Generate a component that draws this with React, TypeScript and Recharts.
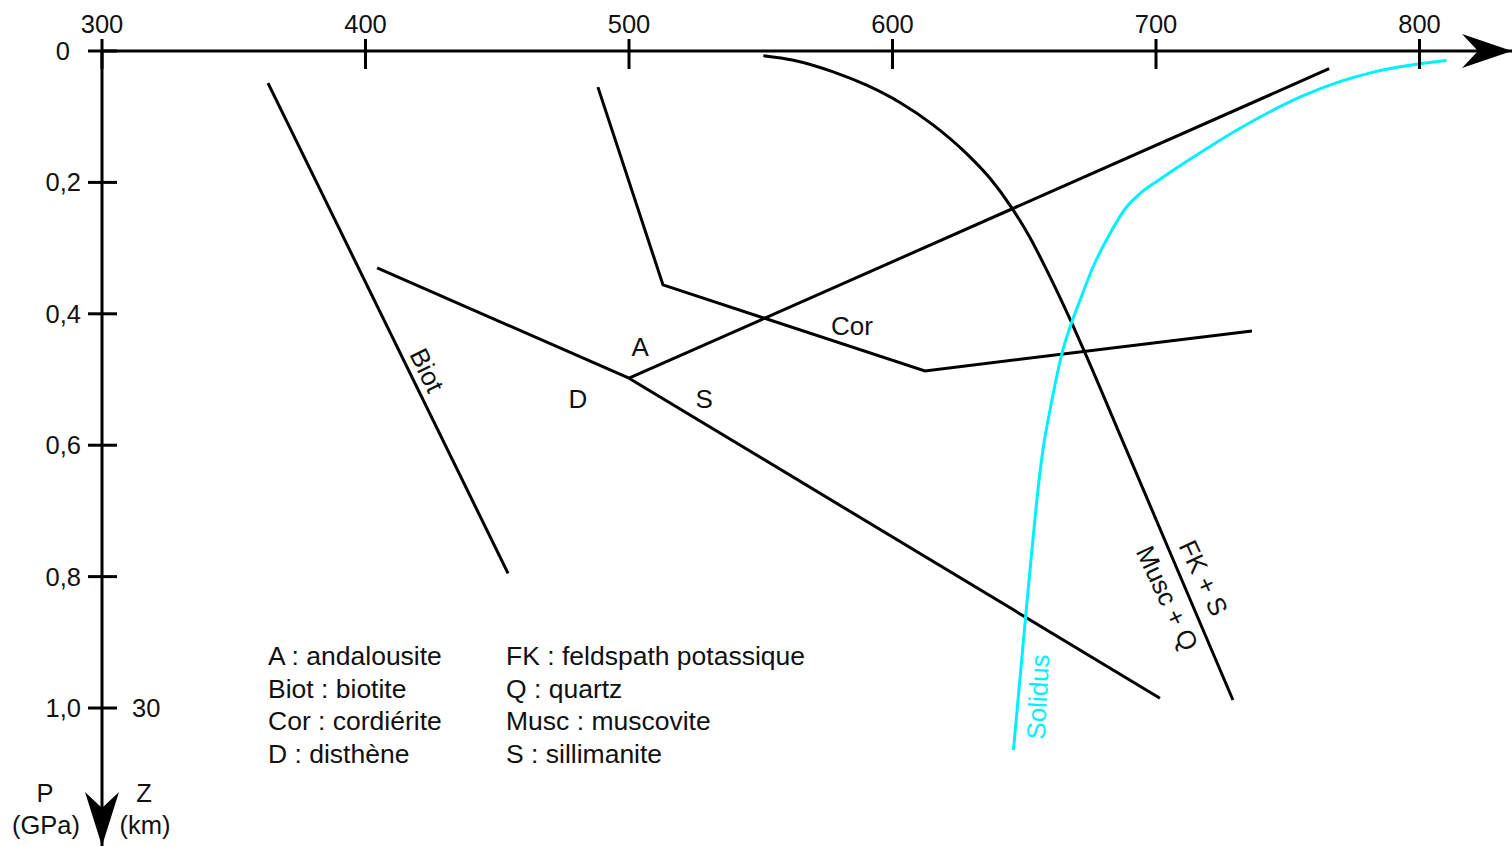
import React from 'react';
import { ComposedChart, Line, XAxis, YAxis, ReferenceDot, Legend } from 'recharts';

const FONT = '"Liberation Sans", Arial, Helvetica, sans-serif';
const INK = '#111111';
const LINE = '#000000';
const CYAN = '#00F0FF';

// ---- axes ----
const temperatureTicks = [300, 400, 500, 600, 700, 800];
const pressureTicks = [0, 0.2, 0.4, 0.6, 0.8, 1.0];
const depthTicks = [{ p: 1.0, z: 30 }];
const temperatureDomain: [number, number] = [300, 835.1];
const pressureDomain: [number, number] = [0, 1.21];

// ---- reaction curves (T in °C, P in GPa) ----
const biotite = [
  { t: 363.0, p: 0.049 },
  { t: 454.1, p: 0.795 },
];
const kyaniteAndalusite = [
  { t: 404.4, p: 0.330 },
  { t: 500.0, p: 0.498 },
];
const andalusiteSillimanite = [
  { t: 500.0, p: 0.498 },
  { t: 765.7, p: 0.027 },
];
const kyaniteSillimanite = [
  { t: 500.0, p: 0.498 },
  { t: 701.5, p: 0.985 },
];
const cordierite = [
  { t: 488.2, p: 0.055 },
  { t: 512.9, p: 0.356 },
  { t: 612.3, p: 0.487 },
  { t: 736.4, p: 0.426 },
];
const muscoviteBreakdown = [
  { t: 551.0, p: 0.0072 },
  { t: 562.4, p: 0.0140 },
  { t: 577.5, p: 0.0317 },
  { t: 590.2, p: 0.0521 },
  { t: 602.8, p: 0.0784 },
  { t: 615.5, p: 0.1128 },
  { t: 628.2, p: 0.1565 },
  { t: 637.0, p: 0.1937 },
  { t: 645.2, p: 0.2383 },
  { t: 652.2, p: 0.2843 },
  { t: 657.2, p: 0.3228 },
  { t: 668.1, p: 0.4146 },
  { t: 673.4, p: 0.4626 },
  { t: 685.2, p: 0.5735 },
  { t: 705.3, p: 0.7629 },
  { t: 729.2, p: 0.9878 },
];
const solidus = [
  { t: 645.9, p: 1.064 },
  { t: 650.5, p: 0.862 },
  { t: 652.9, p: 0.760 },
  { t: 654.8, p: 0.683 },
  { t: 657.1, p: 0.607 },
  { t: 659.8, p: 0.546 },
  { t: 664.8, p: 0.453 },
  { t: 667.4, p: 0.420 },
  { t: 671.2, p: 0.379 },
  { t: 676.2, p: 0.328 },
  { t: 682.5, p: 0.278 },
  { t: 688.9, p: 0.237 },
  { t: 693.9, p: 0.217 },
  { t: 701.5, p: 0.1953 },
  { t: 715.4, p: 0.1584 },
  { t: 730.6, p: 0.1206 },
  { t: 743.3, p: 0.0924 },
  { t: 755.9, p: 0.0680 },
  { t: 768.6, p: 0.0482 },
  { t: 782.5, p: 0.0321 },
  { t: 799.5, p: 0.0198 },
  { t: 810.3, p: 0.0146 },
];

// ---- field labels ----
const annotations = [
  { text: 'Biot', t: 423.3, p: 0.486 },
  { text: 'A', t: 504.2, p: 0.450 },
  { text: 'D', t: 480.6, p: 0.530 },
  { text: 'S', t: 528.5, p: 0.530 },
  { text: 'Cor', t: 584.6, p: 0.419 },
  { text: 'FK + S', t: 718.0, p: 0.802 },
  { text: 'Musc + Q', t: 704.3, p: 0.833 },
  { text: 'Solidus', t: 655.2, p: 0.983 },
];
const annotationStyle: Record<string, { angle: number; color: string }> = {
  Biot: { angle: 64, color: INK },
  A: { angle: 0, color: INK },
  D: { angle: 0, color: INK },
  S: { angle: 0, color: INK },
  Cor: { angle: 0, color: INK },
  'FK + S': { angle: 65, color: INK },
  'Musc + Q': { angle: 65, color: INK },
  Solidus: { angle: -87, color: CYAN },
};

// ---- abbreviations ----
const abbreviationsLeft = ['A : andalousite', 'Biot : biotite', 'Cor : cordiérite', 'D : disthène'];
const abbreviationsRight = ['FK : feldspath potassique', 'Q : quartz', 'Musc : muscovite', 'S : sillimanite'];

const TICK_FONT = 25.5;
const LABEL_FONT = 26;
const LEGEND_FONT = 26.5;

const formatPressure = (v: number) => (v === 0 ? '0' : v.toFixed(1).replace('.', ','));

const TopTick = (props: any) => {
  const { x, y, payload } = props;
  return (
    <g>
      <line x1={x} x2={x} y1={y - 12} y2={y + 18} stroke={LINE} strokeWidth={3} />
      <text x={x} y={y - 18} textAnchor="middle" fontSize={TICK_FONT} fill={INK} fontFamily={FONT}>
        {payload.value}
      </text>
    </g>
  );
};

const LeftTick = (props: any) => {
  const { x, y, payload } = props;
  const v = payload.value as number;
  const depth = depthTicks.find((d) => Math.abs(d.p - v) < 1e-9);
  return (
    <g>
      <line x1={x - 14} x2={x + 15} y1={y} y2={y} stroke={LINE} strokeWidth={3} />
      <text x={v === 0 ? x - 32 : x - 21} y={y + 9} textAnchor="end" fontSize={TICK_FONT} fill={INK} fontFamily={FONT}>
        {formatPressure(v)}
      </text>
      {depth && (
        <text x={x + 30} y={y + 9} textAnchor="start" fontSize={TICK_FONT} fill={INK} fontFamily={FONT}>
          {depth.z}
        </text>
      )}
    </g>
  );
};

const XArrowHead = (props: any) => {
  const { cx, cy } = props;
  return <path d={`M${cx},${cy} L${cx - 50},${cy - 17} L${cx - 34},${cy} L${cx - 50},${cy + 17} Z`} fill={LINE} />;
};

const YArrowHead = (props: any) => {
  const { cx, cy } = props;
  return (
    <g>
      <path d={`M${cx},${cy} L${cx - 17},${cy - 54} L${cx},${cy - 38} L${cx + 17},${cy - 54} Z`} fill={LINE} />
      <g fontSize={TICK_FONT} fill={INK} fontFamily={FONT} textAnchor="middle">
        <text x={cx - 57} y={cy - 44}>P</text>
        <text x={cx - 56} y={cy - 12}>(GPa)</text>
        <text x={cx + 42} y={cy - 44}>Z</text>
        <text x={cx + 43} y={cy - 12}>(km)</text>
      </g>
    </g>
  );
};

const makeAnnotation = (text: string) => (props: any) => {
  const { cx, cy } = props;
  const st = annotationStyle[text];
  return (
    <text
      x={cx}
      y={cy}
      textAnchor="middle"
      dominantBaseline="central"
      fontSize={LABEL_FONT}
      fill={st.color}
      fontFamily={FONT}
      transform={st.angle ? `rotate(${st.angle} ${cx} ${cy})` : undefined}
    >
      {text}
    </text>
  );
};

const Abbreviations = () => (
  <div
    style={{
      display: 'flex',
      fontFamily: FONT,
      fontSize: LEGEND_FONT,
      lineHeight: '32.7px',
      color: INK,
      textAlign: 'left',
      whiteSpace: 'nowrap',
    }}
  >
    <div style={{ width: 238 }}>
      {abbreviationsLeft.map((s) => (
        <div key={s}>{s}</div>
      ))}
    </div>
    <div>
      {abbreviationsRight.map((s) => (
        <div key={s}>{s}</div>
      ))}
    </div>
  </div>
);

const straightLines = [biotite, kyaniteAndalusite, andalusiteSillimanite, kyaniteSillimanite, cordierite];

export default function App() {
  return (
    <div style={{ position: 'absolute', left: 0, top: 0, width: 1512, height: 846, background: '#fff' }}>
      <ComposedChart width={1512} height={846} margin={{ top: 0, right: 0, bottom: 0, left: 0 }}>
        <XAxis
          type="number"
          dataKey="t"
          orientation="top"
          height={51}
          domain={temperatureDomain}
          ticks={temperatureTicks}
          interval={0}
          allowDataOverflow
          axisLine={{ stroke: LINE, strokeWidth: 3 }}
          tickLine={false}
          tickSize={0}
          tickMargin={0}
          tick={(p: any) => <TopTick {...p} />}
        />
        <YAxis
          type="number"
          dataKey="p"
          width={102}
          reversed
          domain={pressureDomain}
          ticks={pressureTicks}
          interval={0}
          allowDataOverflow
          axisLine={{ stroke: LINE, strokeWidth: 3 }}
          tickLine={false}
          tickSize={0}
          tickMargin={0}
          tick={(p: any) => <LeftTick {...p} />}
        />
        {straightLines.map((d, i) => (
          <Line
            key={i}
            data={d}
            dataKey="p"
            type="linear"
            stroke={LINE}
            strokeWidth={3}
            dot={false}
            activeDot={false}
            isAnimationActive={false}
          />
        ))}
        <Line
          data={muscoviteBreakdown}
          dataKey="p"
          type="monotoneX"
          stroke={LINE}
          strokeWidth={3}
          dot={false}
          activeDot={false}
          isAnimationActive={false}
        />
        <Line
          data={solidus}
          dataKey="p"
          type="monotoneX"
          stroke={CYAN}
          strokeWidth={3}
          dot={false}
          activeDot={false}
          isAnimationActive={false}
        />
        <ReferenceDot x={temperatureDomain[1]} y={0} ifOverflow="visible" shape={XArrowHead} />
        <ReferenceDot x={temperatureDomain[0]} y={pressureDomain[1]} ifOverflow="visible" shape={YArrowHead} />
        {annotations.map((a) => (
          <ReferenceDot key={a.text} x={a.t} y={a.p} ifOverflow="visible" shape={makeAnnotation(a.text)} />
        ))}
        <Legend
          layout="horizontal"
          verticalAlign="middle"
          align="center"
          wrapperStyle={{ left: 268, top: 640, width: 'auto', height: 'auto' }}
          content={() => <Abbreviations />}
        />
      </ComposedChart>
    </div>
  );
}
